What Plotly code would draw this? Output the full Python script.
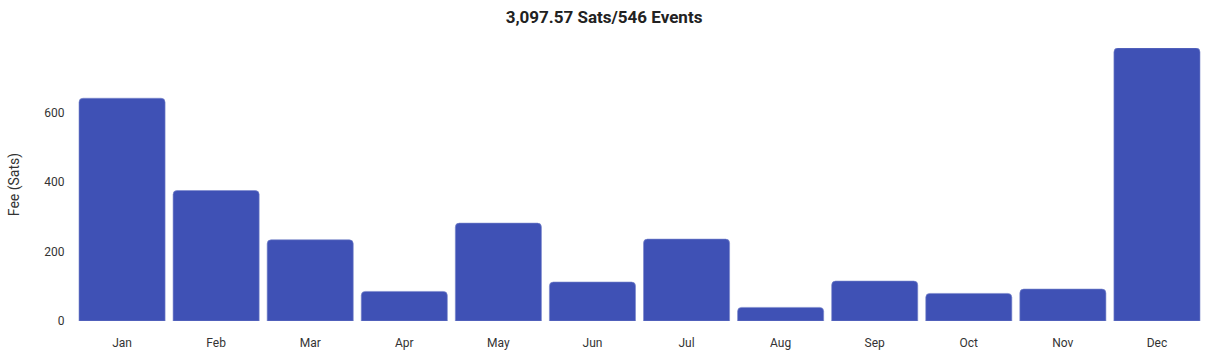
import plotly.graph_objects as go

months = ["Jan", "Feb", "Mar", "Apr", "May", "Jun", "Jul", "Aug", "Sep", "Oct", "Nov", "Dec"]
fees = [641.4, 375.7, 233.8, 85.2, 281.8, 112.2, 235.8, 39.2, 115.0, 79.4, 92.0, 786.0]
y_ticks = [0, 200, 400, 600]
title_text = "3,097.57 Sats/546 Events"

fig = go.Figure(
    go.Bar(
        x=months,
        y=fees,
        marker=dict(color="#3F51B5", line=dict(color="#7986CB", width=0.6)),
        hoverinfo="x+y",
    )
)

fig.update_layout(
    width=1208,
    height=354,
    margin=dict(l=75, r=4, t=48, b=33),
    paper_bgcolor="white",
    plot_bgcolor="white",
    bargap=0.085,
    barcornerradius=4,
    showlegend=False,
    font=dict(family="Roboto, sans-serif", size=12, color="#333333"),
    title=dict(
        text="<b>" + title_text + "</b>",
        x=0.5,
        xanchor="center",
        y=1 - 17 / 354,
        yanchor="middle",
        yref="container",
        font=dict(family="Roboto, sans-serif", size=17, color="#222222"),
    ),
    xaxis=dict(
        showgrid=False,
        showline=False,
        zeroline=False,
        ticks="outside",
        ticklen=11,
        tickcolor="rgba(0,0,0,0)",
        tickfont=dict(size=12, color="#333333"),
    ),
    yaxis=dict(
        range=[0, 786],
        tickvals=y_ticks,
        showgrid=False,
        showline=False,
        zeroline=False,
        ticks="outside",
        ticklen=7,
        tickcolor="rgba(0,0,0,0)",
        tickfont=dict(size=12, color="#333333"),
        title=dict(text="Fee (Sats)", font=dict(size=14, color="#333333"), standoff=21),
    ),
)

fig.write_html("out.html")
